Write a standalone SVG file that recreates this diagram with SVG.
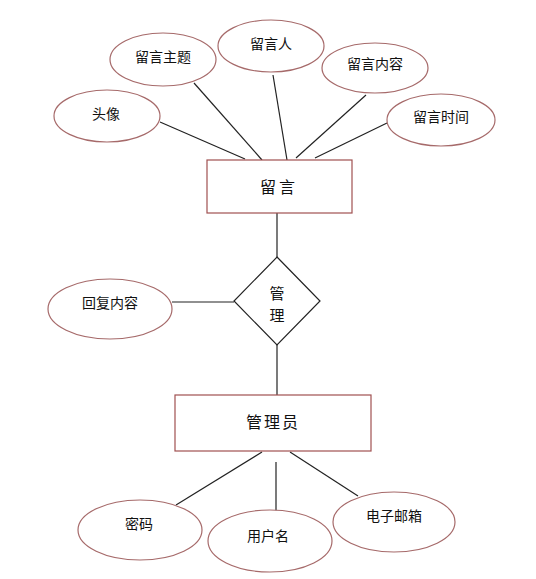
<svg xmlns="http://www.w3.org/2000/svg" width="536" height="579" viewBox="0 0 536 579">
<style>
.attr{fill:#fff;stroke:#a66a6a;stroke-width:1.2}
.ent{fill:#fff;stroke:#a05050;stroke-width:1.2}
.rel{fill:#fff;stroke:#222;stroke-width:1.2}
.conn line{stroke:#222;stroke-width:1.2}
text{font-family:"Noto Sans CJK SC","Noto Sans",sans-serif;fill:#111;text-anchor:middle;dominant-baseline:central}
.s{font-size:14px}
.m{font-size:16px}
.d{font-size:15px}
</style>
<rect width="536" height="579" fill="#fff"/>
<g id="connectors" class="conn">
<line x1="160" y1="122" x2="245" y2="159"/>
<line x1="194" y1="83" x2="262" y2="160"/>
<line x1="273" y1="75" x2="287" y2="160"/>
<line x1="366" y1="95" x2="296" y2="158"/>
<line x1="387" y1="123" x2="315" y2="158"/>
<line x1="277" y1="213" x2="277" y2="257"/>
<line x1="172" y1="302" x2="234" y2="302"/>
<line x1="277" y1="345" x2="277" y2="395"/>
<line x1="262" y1="452" x2="176" y2="505"/>
<line x1="276" y1="462" x2="276" y2="522"/>
<line x1="290" y1="452" x2="358" y2="496"/>
</g>
<g id="touxiang"><ellipse class="attr" cx="107" cy="116" rx="53" ry="26"/><text class="s" x="106" y="113">头像</text></g>
<g id="zhuti"><ellipse class="attr" cx="163" cy="59.5" rx="53" ry="26.5"/><text class="s" x="163" y="56">留言主题</text></g>
<g id="liuyanren"><ellipse class="attr" cx="271" cy="46" rx="53" ry="26"/><text class="s" x="271" y="43">留言人</text></g>
<g id="neirong"><ellipse class="attr" cx="375" cy="68" rx="53" ry="25"/><text class="s" x="375" y="63">留言内容</text></g>
<g id="shijian"><ellipse class="attr" cx="441" cy="120" rx="54" ry="26"/><text class="s" x="441" y="116">留言时间</text></g>
<g id="liuyan"><rect class="ent" x="207" y="160" width="145" height="53"/><text class="m" x="279" y="186" letter-spacing="3">留言</text></g>
<g id="guanli"><polygon class="rel" points="277,257 320,301 277,345 234,301"/><text class="d" x="277" y="292">管</text><text class="d" x="277" y="314">理</text></g>
<g id="huifu"><ellipse class="attr" cx="110" cy="309" rx="62" ry="30"/><text class="s" x="110" y="302">回复内容</text></g>
<g id="guanliyuan"><rect class="ent" x="175" y="395" width="196" height="56"/><text class="m" x="273" y="421" letter-spacing="2">管理员</text></g>
<g id="mima"><ellipse class="attr" cx="140" cy="530" rx="62" ry="30"/><text class="s" x="139" y="523">密码</text></g>
<g id="yonghuming"><ellipse class="attr" cx="270" cy="541" rx="62" ry="31"/><text class="s" x="268" y="535">用户名</text></g>
<g id="youxiang"><ellipse class="attr" cx="394" cy="522" rx="61" ry="30"/><text class="s" x="394" y="515">电子邮箱</text></g>
</svg>
